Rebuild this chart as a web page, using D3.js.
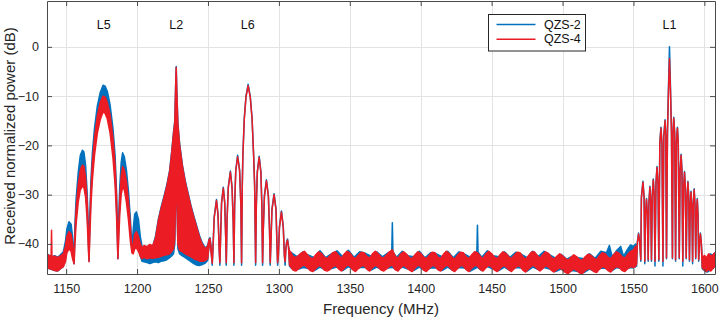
<!DOCTYPE html>
<html>
<head>
<meta charset="utf-8">
<script src="https://cdn.jsdelivr.net/npm/d3@7"></script>
<style>
  html, body { margin: 0; padding: 0; background: #fff; }
  svg { display: block; font-family: "Liberation Sans", Arial, Helvetica, sans-serif; }
</style>
</head>
<body>
<svg id="chart" width="720" height="322"></svg>
<script>
// Axis ticks
const xTicks = [1150, 1200, 1250, 1300, 1350, 1400, 1450, 1500, 1550, 1600];
const yTicks = [-40, -30, -20, -10, 0];

// Signal band annotations (centre frequency, MHz)
const bandNames = ["L5", "L2", "L6", "L1"];
const bandFreqs = [1176.45, 1227.6, 1278.0, 1575.42];

// Series
const seriesNames = ["QZS-2", "QZS-4"];
const seriesColors = ["#0072bd", "#ec1c24"];

// Spectra: [frequency MHz, upper dB, lower dB]; a single value means a thin trace
const qzs2Spectrum = [
  // low floor + L5
  [1136.5,-42,-44.8],[1138,-42.3,-45],[1140,-42.6,-45.2],[1142,-42.4,-45.4],[1144,-42.7,-45.5],[1146,-42.2,-45],[1148,-41.6,-44.6],
  [1149.5,-39.5,-43],[1150.5,-37,-41],[1152,-35.5,-40],[1153.5,-36,-40.5],[1154.5,-38.5,-42],[1155.6,-43.5,-44],
  [1156.2,-36,-38],[1157,-31,-34],[1158.5,-25.5,-29.5],[1160,-22,-26.5],[1161.5,-21,-25.5],[1162.5,-21.3,-26],[1163.7,-24,-28.5],
  [1164.8,-29.5,-33.5],[1165.6,-36,-39],[1166.1,-43.2,-43.5],
  [1166.7,-34,-36.5],[1167.5,-27,-30],[1168.5,-21.5,-25],[1170,-16.5,-20],[1172,-12,-15.5],[1174,-9.3,-12.8],[1176,-7.8,-11],
  [1177.5,-8,-11.3],[1179,-9,-12.5],[1181,-11.8,-15.3],[1183,-16.5,-20.5],[1184.5,-22,-26],[1185.5,-29,-32.5],[1186.1,-36,-38.5],[1186.5,-42.8,-43],
  [1187,-35,-37.5],[1187.8,-28.5,-32],[1188.8,-23.5,-28],[1189.8,-21.5,-26],[1191,-22.3,-27],[1192.5,-25,-29.8],[1194,-29.5,-33.5],
  [1195.3,-35,-38],[1196.4,-40.8,-41.2],
  [1197.3,-37,-40.5],[1198.3,-34,-39],[1199.5,-33.5,-39.5],[1201,-35,-40.5],[1202.3,-38.5,-42.5],[1203.5,-40.5,-43.5],
  [1205,-41,-43.6],[1207,-40.5,-43.8],[1209,-41,-44],[1211,-40.5,-43.8],
  // L2
  [1213,-38.5,-43.6],[1215,-35,-43.8],[1217,-32.5,-43.5],[1219,-30.3,-43.4],[1221,-28,-43.2],[1223,-25,-42.8],[1224.5,-21,-42.4],
  [1225.7,-17.3,-42],[1226.6,-15,-40],[1227.2,-8,-30],[1227.6,-4,-12],[1228,-8.5,-30],[1228.8,-15.5,-41],[1230,-19.6,-42],
  [1232,-24,-42.4],[1234,-27.2,-42.8],[1236,-29.7,-43.2],[1238,-32.2,-43.6],[1240,-34.3,-44],[1242,-36.3,-44.3],[1244,-38.3,-44.4],
  [1246,-39.8,-44.2],[1248,-40.8,-43.9],[1249.8,-40.3,-43.3],
  // L6
  [1250.8,-39,-40],[1251.4,-38.7,-39.8],[1252.2,-40.5,-41.5],
  [1253,-44.3],[1253.5,-41],[1254.4,-34.5],[1256,-31],[1257.1,-34],[1257.9,-41],[1258.4,-44.3],
  [1258.9,-38.5],[1259.6,-31.5],[1260.8,-28.5],[1261.8,-31.5],[1262.5,-38.5],[1262.9,-44.3],
  [1263.4,-35.5],[1264.3,-28.5],[1265.8,-25.2],[1267,-28.5],[1267.8,-35.5],[1268.3,-44.3],
  [1268.8,-32],[1269.6,-25],[1270.9,-22],[1272.3,-25],[1273.2,-32],[1273.7,-44.3],
  [1274.2,-28],[1274.6,-22],[1275.6,-14.5],[1276.8,-10],[1278.3,-7.6],[1279.8,-10],[1281.1,-14.5],[1282.2,-22],[1282.9,-28],[1283.6,-44.3],
  [1284.1,-32],[1284.8,-25.3],[1286.1,-22.2],[1287.3,-25.3],[1288,-32],[1288.5,-44.3],
  [1289,-37],[1289.8,-30.2],[1291.2,-27],[1292.6,-30.2],[1293.4,-37],[1293.9,-44.3],
  [1294.4,-39.5],[1295.1,-33],[1296.6,-29.8],[1298,-33],[1298.6,-39.5],[1299.1,-44.3],
  [1299.6,-42.5],[1300.4,-36.5],[1301.8,-33.3],[1303.1,-36.5],[1303.9,-42.5],[1304.4,-44.3],
  [1304.9,-41],[1305.5,-39.5],[1306.1,-39],[1306.8,-40.5],[1307.5,-41.5,-44.5],
  // noise floor
  [1309,-41.8,-45],[1313,-42.6,-45.2],[1317,-41.6,-44.8],[1321,-42.3,-45],[1325,-42.8,-45.4],[1329,-41.4,-44.7],[1333,-42.8,-45.3],
  [1337,-42,-45],[1341,-41.4,-44.7],[1345,-42.6,-45.4],[1349,-41.3,-44.6],[1353,-42.7,-45.3],[1357,-41.6,-44.8],[1361,-41.9,-44.8],
  [1365,-42.5,-45.3],[1369,-41.6,-44.7],[1373,-42.6,-45.3],[1377,-41.8,-44.9],[1379.6,-41.5,-44.8],[1380,-35.7,-44.8],[1380.4,-41.6,-44.8],
  [1383,-42.7,-45.3],[1387,-41.5,-44.7],[1391,-42.4,-45.1],[1395,-42.6,-45.4],[1399,-41.5,-44.7],[1403,-42.8,-45.4],[1407,-41.8,-44.9],
  [1411,-42,-44.9],[1415,-42.6,-45.4],[1419,-41.5,-44.7],[1423,-42.8,-45.4],[1427,-41.6,-44.8],[1431,-42.1,-44.9],[1435,-42.7,-45.5],
  [1439.6,-41.5,-44.8],[1440,-36.2,-44.8],[1440.4,-41.6,-44.8],[1443,-42.7,-45.4],[1447,-41.4,-44.6],[1451,-42.4,-45.1],[1455,-42.6,-45.4],
  [1459,-41.6,-44.7],[1463,-42.7,-45.4],[1467,-41.7,-44.8],[1471,-42.1,-44.9],[1475,-42.8,-45.5],[1479,-41.5,-44.7],[1483,-42.5,-45.2],
  [1487,-41.5,-44.8],[1491,-42.2,-45.1],[1495,-42.9,-45.6],[1499,-42.1,-45.1],[1503,-43.1,-45.8],[1507,-42.5,-45.4],[1511,-42.8,-45.6],
  [1515,-43,-45.8],[1519,-42,-45.1],[1523,-42.9,-45.6],[1527,-41.5,-44.9],[1531,-41.8,-45],[1533,-40.3,-45.2],[1535,-42.6,-45.4],
  [1538,-41.4,-44.8],[1541,-40.5,-45],[1543,-42.5,-45.4],[1546,-41,-45],[1548,-40.2,-44.8],[1550,-40.5,-44.9],[1551.5,-40,-44.6],
  // L1
  [1552.2,-42.5,-44.5],[1552.8,-39.5],[1553.6,-37.8],[1554.4,-39.5],[1555.2,-43.5],
  [1555.6,-30.5],[1556.7,-27.3],[1557.5,-30.5],[1558,-44],
  [1558.5,-34],[1559.2,-30.8],[1559.8,-34],[1560.4,-43.5],
  [1560.9,-31.5],[1561.6,-28.3],[1562.2,-31.5],[1562.7,-43.5],
  [1563.3,-30],[1564,-26.8],[1564.6,-30],[1565.2,-44.5],
  [1565.9,-27.5],[1566.6,-24.3],[1567.3,-27.5],[1567.9,-43.5],
  [1568.6,-19.5],[1569.4,-16.3],[1570.1,-19.5],[1570.8,-44.5],
  [1571.4,-18],[1572.3,-14.8],[1572.8,-18],[1573.3,-43],
  [1574,-17],[1574.7,-8],[1575.4,0],[1576.1,-8],[1576.8,-17],[1577.5,-43],
  [1577.9,-17.5],[1578.4,-14.3],[1579.1,-17.5],[1579.7,-43.5],
  [1580.3,-19.5],[1581,-16.3],[1581.6,-19.5],[1582.3,-43],
  [1582.9,-25],[1583.6,-21.8],[1584.2,-25],[1584.8,-44.5],
  [1585.4,-28.5],[1586,-25.3],[1586.6,-28.5],[1587.2,-43],
  [1587.8,-30.5],[1588.4,-27.3],[1589,-30.5],[1589.5,-43.5],
  [1590,-32.5],[1590.6,-29.3],[1591.2,-32.5],[1591.7,-44],
  [1592.2,-32],[1592.8,-28.8],[1593.4,-32],[1593.9,-43],
  [1594.4,-34],[1595,-30.8],[1595.5,-34],[1596,-43.5],
  [1596.6,-39.5],[1597.2,-37.8],[1597.8,-39.5],[1598.5,-43.5,-45],
  [1600,-42.5,-45.4],[1602,-43,-45.7],[1604,-42,-45.3],[1606,-42.3,-45],[1607.5,-41.8,-44.5]
];

const qzs4Spectrum = [
  // low floor + L5
  [1136.5,-42,-44.6],[1138,-42.4,-45],[1139.4,-42.6,-45.1],[1139.7,-37.2,-45],[1140,-42.6,-45.2],[1142,-42.5,-45.4],[1144,-42.8,-45.5],
  [1146,-42.4,-45],[1148,-42,-44.6],[1149.5,-40.5,-43.6],[1150.5,-38.5,-41.8],[1152,-37.5,-41],[1153.5,-38,-41.5],[1154.5,-40,-43],[1155.6,-43.8,-44],
  [1156.2,-38,-40],[1157,-33,-36],[1158.5,-28,-31.5],[1160,-25,-29],[1161.5,-24,-28.3],[1162.5,-24.3,-28.5],[1163.7,-26.5,-30.5],
  [1164.8,-31.5,-35],[1165.6,-37.5,-40.5],[1166.1,-43.4,-43.6],
  [1166.7,-36,-38.5],[1167.5,-29,-32],[1168.5,-23.5,-27],[1170,-18.5,-22],[1172,-14,-17.5],[1174,-11.3,-14.8],[1176,-10,-13.2],
  [1177.5,-10.2,-13.5],[1179,-11.3,-14.6],[1181,-13.8,-17.5],[1183,-18.5,-22.5],[1184.5,-24,-28],[1185.5,-30.5,-34],[1186.1,-37,-39.5],[1186.5,-42.6,-43],
  [1187,-37,-39.5],[1187.8,-31,-34],[1188.8,-26.3,-30],[1189.8,-24.3,-28.5],[1191,-25,-29],[1192.5,-27.3,-31.5],[1194,-31.5,-35.3],
  [1195.3,-36.5,-39.5],[1196.4,-41.3,-41.8],
  [1197.3,-40,-42],[1198.3,-38,-41],[1199.5,-37.5,-40.8],[1201,-38.5,-41.5],[1202.3,-40,-42.5],[1203.5,-40.8,-43],
  [1205,-40.3,-42.7],[1207,-40.6,-43],[1209,-40.1,-42.8],[1211,-40.4,-42.9],
  // L2
  [1213,-38.8,-42.8],[1215,-35.3,-42.7],[1217,-32.8,-42.5],[1219,-30.6,-42.3],[1221,-28.3,-42.2],[1223,-25.3,-42],[1224.5,-21.3,-41.5],
  [1225.7,-17.6,-41],[1226.6,-15.3,-39],[1227.2,-8.2,-30],[1227.6,-4.2,-12],[1228,-8.8,-30],[1228.8,-15.8,-40],[1230,-19.9,-41.3],
  [1232,-24.3,-41.6],[1234,-27.5,-42],[1236,-30,-42.3],[1238,-32.5,-42.6],[1240,-34.6,-43],[1242,-36.6,-43.2],[1244,-38.6,-43.5],
  [1246,-40.1,-43.5],[1248,-41,-43.4],[1249.8,-40.5,-43],
  // L6
  [1250.8,-39.2,-40.2],[1251.4,-38.9,-40],[1252.2,-40.8,-41.6],
  [1253,-43.9],[1253.5,-41.2],[1254.4,-34.7],[1256,-31.2],[1257.1,-34.2],[1257.9,-41.2],[1258.4,-43.8],
  [1258.9,-38.7],[1259.6,-31.7],[1260.8,-28.7],[1261.8,-31.7],[1262.5,-38.7],[1262.9,-43.8],
  [1263.4,-35.7],[1264.3,-28.7],[1265.8,-25.4],[1267,-28.7],[1267.8,-35.7],[1268.3,-43.8],
  [1268.8,-32.2],[1269.6,-25.2],[1270.9,-22.3],[1272.3,-25.2],[1273.2,-32.2],[1273.7,-43.8],
  [1274.2,-28.2],[1274.6,-22.2],[1275.6,-14.7],[1276.8,-10.2],[1278.3,-7.9],[1279.8,-10.2],[1281.1,-14.7],[1282.2,-22.2],[1282.9,-28.2],[1283.6,-43.8],
  [1284.1,-32.2],[1284.8,-25.5],[1286.1,-22.4],[1287.3,-25.5],[1288,-32.2],[1288.5,-43.8],
  [1289,-37.2],[1289.8,-30.4],[1291.2,-27.2],[1292.6,-30.4],[1293.4,-37.2],[1293.9,-43.8],
  [1294.4,-39.7],[1295.1,-33.2],[1296.6,-30],[1298,-33.2],[1298.6,-39.7],[1299.1,-43.8],
  [1299.6,-42.5],[1300.4,-36.7],[1301.8,-33.5],[1303.1,-36.7],[1303.9,-42.5],[1304.4,-43.6],
  [1304.9,-41.2],[1305.5,-39.7],[1306.1,-39.2],[1306.8,-40.7],[1307.5,-41.5,-44.3],
  // noise floor
  [1308,-41.5,-44.5],[1310,-42.5,-45.3],[1312,-42.8,-45.5],[1314,-42.3,-45],[1316,-41.8,-44.5],[1318,-41.5,-44.3],[1320,-42.2,-44.8],
  [1322,-42.8,-45.4],[1324,-43,-45.6],[1326,-42.2,-45],[1328,-41.6,-44.4],[1330,-41.9,-44.6],[1332,-42.7,-45.3],[1334,-43,-45.5],
  [1336,-42.4,-45.2],[1338,-41.8,-44.6],[1340,-41.6,-44.4],[1342,-42.3,-45],[1344,-42.9,-45.5],[1346,-42.1,-45],[1348,-41.5,-44.3],
  [1350,-41.8,-44.5],[1352,-42.6,-45.2],[1354,-43,-45.6],[1356,-42.3,-45],[1358,-41.7,-44.5],[1360,-41.8,-44.4],[1362,-42.5,-45.1],
  [1364,-42.9,-45.5],[1366,-42,-44.8],[1368,-41.5,-44.3],[1370,-42,-44.7],[1372,-42.7,-45.3],[1374,-42.9,-45.5],[1376,-42.2,-45],
  [1378,-41.6,-44.5],[1380,-41.2,-44.3],[1382,-42.5,-45.2],[1384,-42.9,-45.5],[1386,-42,-44.8],[1388,-41.6,-44.3],[1390,-42.1,-44.8],
  [1392,-42.8,-45.3],[1394,-43,-45.6],[1396,-42.2,-44.9],[1398,-41.6,-44.3],[1400,-41.9,-44.6],[1402,-42.7,-45.3],[1404,-43,-45.6],
  [1406,-42.3,-45],[1408,-41.7,-44.4],[1410,-41.8,-44.5],[1412,-42.6,-45.2],[1414,-43,-45.5],[1416,-42.1,-44.9],[1418,-41.5,-44.3],
  [1420,-41.9,-44.6],[1422,-42.7,-45.3],[1424,-43.1,-45.6],[1426,-42.3,-45],[1428,-41.7,-44.4],[1430,-41.8,-44.5],[1432,-42.6,-45.2],
  [1434,-43,-45.6],[1436,-42.2,-44.9],[1438,-41.6,-44.4],[1440,-41.8,-44.5],[1442,-42.5,-45.2],[1444,-43,-45.5],[1446,-42,-44.8],
  [1448,-41.5,-44.3],[1450,-42,-44.7],[1452,-42.7,-45.3],[1454,-43,-45.6],[1456,-42.2,-45],[1458,-41.6,-44.4],[1460,-41.9,-44.6],
  [1462,-42.6,-45.2],[1464,-43,-45.6],[1466,-42.3,-45],[1468,-41.7,-44.5],[1470,-41.8,-44.5],[1472,-42.6,-45.3],[1474,-43.1,-45.7],
  [1476,-42.4,-45.1],[1478,-41.7,-44.5],[1480,-41.6,-44.4],[1482,-42.3,-45],[1484,-42.9,-45.5],[1486,-42.2,-45],[1488,-41.6,-44.4],
  [1490,-41.9,-44.7],[1492,-42.7,-45.3],[1494,-43.1,-45.7],[1496,-42.5,-45.2],[1498,-42,-44.8],[1500,-42.4,-45.3],[1502,-43,-45.8],
  [1504,-43.3,-46],[1506,-42.7,-45.5],[1508,-42.2,-45],[1510,-42.6,-45.4],[1512,-43.2,-45.9],[1514,-43.3,-46],[1516,-42.6,-45.4],
  [1518,-42.1,-45],[1520,-42.3,-45.1],[1522,-42.9,-45.6],[1524,-43.2,-45.8],[1526,-42.4,-45.1],[1528,-41.8,-44.6],[1530,-42,-44.8],
  [1532,-42.7,-45.4],[1534,-43,-45.7],[1536,-42.2,-45],[1538,-41.6,-44.6],[1540,-41.9,-44.8],[1542,-42.6,-45.4],[1544,-42.9,-45.6],
  [1546,-42.1,-45],[1548,-41.5,-44.6],[1550,-41.2,-44.8],[1551.5,-40.5,-44.5],
  // L1
  [1552.2,-42.3,-44],[1552.8,-39.7],[1553.6,-38],[1554.4,-39.7],[1555.2,-43.2],
  [1555.6,-30.7],[1556.7,-27.5],[1557.5,-30.7],[1558,-43.5],
  [1558.5,-34.2],[1559.2,-31],[1559.8,-34.2],[1560.4,-43.2],
  [1560.9,-31.7],[1561.6,-28.5],[1562.2,-31.7],[1562.7,-43.2],
  [1563.3,-30.2],[1564,-27],[1564.6,-30.2],[1565.2,-43.5],
  [1565.9,-27.7],[1566.6,-24.5],[1567.3,-27.7],[1567.9,-43.2],
  [1568.6,-19.7],[1569.4,-16.5],[1570.1,-19.7],[1570.8,-43.5],
  [1571.4,-18.2],[1572.3,-15],[1572.8,-18.2],[1573.3,-42.8],
  [1574,-17.5],[1574.7,-9],[1575.4,-2.4],[1576.1,-9],[1576.8,-17.5],[1577.5,-42.8],
  [1577.9,-17.7],[1578.4,-14.5],[1579.1,-17.7],[1579.7,-43.2],
  [1580.3,-19.7],[1581,-16.5],[1581.6,-19.7],[1582.3,-42.8],
  [1582.9,-25.2],[1583.6,-22],[1584.2,-25.2],[1584.8,-43.5],
  [1585.4,-28.7],[1586,-25.5],[1586.6,-28.7],[1587.2,-42.8],
  [1587.8,-30.7],[1588.4,-27.5],[1589,-30.7],[1589.5,-43.2],
  [1590,-32.7],[1590.6,-29.5],[1591.2,-32.7],[1591.7,-43.5],
  [1592.2,-32.2],[1592.8,-29],[1593.4,-32.2],[1593.9,-42.8],
  [1594.4,-34.2],[1595,-31],[1595.5,-34.2],[1596,-43.2],
  [1596.6,-39.7],[1597.2,-38],[1597.8,-39.7],[1598.5,-43,-44.8],
  [1600,-42.3,-45.3],[1601.5,-42.8,-45.6],[1603,-42,-45.2],[1604.5,-42.5,-45.5],[1606,-42.2,-45],[1607.5,-41.8,-44.5]
];

const spectra = [qzs2Spectrum, qzs4Spectrum];

// Layout
const W = 720, H = 322;
const margin = { left: 47, right: 5, top: 1, bottom: 48 };
const plotW = W - margin.left - margin.right;
const plotH = H - margin.top - margin.bottom;

const x = d3.scaleLinear().domain([1136.5, 1607.5]).range([0, plotW]);
const y = d3.scaleLinear().domain([-46.1, 9.3]).range([plotH, 0]);

const axisColor = "#4a4a4a";
const textColor = "#262626";
const gridColor = "#e3e3e3";

const svg = d3.select("#chart");
const g = svg.append("g").attr("transform", `translate(${margin.left},${margin.top})`);

svg.append("defs").append("clipPath").attr("id", "plotClip")
  .append("rect").attr("width", plotW).attr("height", plotH);

// Grid
g.append("g").selectAll("line").data(xTicks).join("line")
  .attr("x1", d => Math.round(x(d)) + 0.5).attr("x2", d => Math.round(x(d)) + 0.5)
  .attr("y1", 0).attr("y2", plotH)
  .attr("stroke", gridColor).attr("stroke-width", 1);
g.append("g").selectAll("line").data(yTicks).join("line")
  .attr("y1", d => Math.round(y(d)) + 0.5).attr("y2", d => Math.round(y(d)) + 0.5)
  .attr("x1", 0).attr("x2", plotW)
  .attr("stroke", gridColor).attr("stroke-width", 1);

// Spectra as bands between upper and lower readings
const band = d3.area()
  .x(d => x(d[0]))
  .y1(d => y(d[1]))
  .y0(d => y(d.length > 2 ? d[2] : d[1]));

const plot = g.append("g").attr("clip-path", "url(#plotClip)");
spectra.forEach((data, i) => {
  plot.append("path")
    .datum(data)
    .attr("d", band)
    .attr("fill", seriesColors[i])
    .attr("stroke", seriesColors[i])
    .attr("stroke-width", 1.5)
    .attr("stroke-linejoin", "round");
});

// Axes (box with inward ticks on all sides)
const tickLen = 5;
const xAxisB = d3.axisBottom(x).tickValues(xTicks).tickFormat(d3.format("d"))
  .tickSizeInner(-tickLen).tickSizeOuter(0).tickPadding(10);
const yAxisL = d3.axisLeft(y).tickValues(yTicks).tickFormat(d3.format("d"))
  .tickSizeInner(-tickLen).tickSizeOuter(0).tickPadding(8);
const xAxisT = d3.axisTop(x).tickValues(xTicks).tickSizeInner(-tickLen).tickSizeOuter(0).tickFormat("");
const yAxisR = d3.axisRight(y).tickValues(yTicks).tickSizeInner(-tickLen).tickSizeOuter(0).tickFormat("");

function styleAxis(sel) {
  sel.select(".domain").attr("stroke", axisColor).attr("stroke-width", 1);
  sel.selectAll(".tick line").attr("stroke", axisColor).attr("stroke-width", 1);
  sel.selectAll(".tick text").attr("fill", textColor)
    .style("font-family", '"Liberation Sans", Arial, sans-serif').style("font-size", "12.5px");
}

g.append("g").attr("transform", `translate(0,${plotH})`).call(xAxisB).call(styleAxis);
g.append("g").call(xAxisT).call(styleAxis);
g.append("g").call(yAxisL).call(styleAxis);
g.append("g").attr("transform", `translate(${plotW},0)`).call(yAxisR).call(styleAxis);

// Band labels
g.append("g").selectAll("text").data(bandNames).join("text")
  .attr("x", (d, i) => x(bandFreqs[i]))
  .attr("y", 23.5)
  .attr("text-anchor", "middle")
  .attr("dominant-baseline", "central")
  .attr("fill", "#111")
  .style("font-size", "12.5px")
  .text(d => d);

// Axis titles
svg.append("text")
  .attr("x", margin.left + x(1372))
  .attr("y", 308)
  .attr("text-anchor", "middle")
  .attr("dominant-baseline", "central")
  .attr("fill", textColor)
  .style("font-size", "15px")
  .text("Frequency (MHz)");

svg.append("text")
  .attr("transform", `translate(9,136) rotate(-90)`)
  .attr("text-anchor", "middle")
  .attr("dominant-baseline", "central")
  .attr("fill", textColor)
  .style("font-size", "15px")
  .text("Received normalized power (dB)");

// Legend
const legend = svg.append("g").attr("transform", "translate(488.5,14.5)");
legend.append("rect")
  .attr("width", 97).attr("height", 36.5)
  .attr("fill", "#fff").attr("stroke", "#262626").attr("stroke-width", 1);
seriesNames.forEach((name, i) => {
  const ly = 10 + i * 14.7;
  legend.append("line")
    .attr("x1", 8).attr("x2", 47).attr("y1", ly).attr("y2", ly)
    .attr("stroke", seriesColors[i]).attr("stroke-width", 1.5);
  legend.append("text")
    .attr("x", 55.5).attr("y", ly)
    .attr("dominant-baseline", "central")
    .attr("fill", "#111")
    .style("font-size", "12.5px")
    .text(name);
});
</script>
</body>
</html>
